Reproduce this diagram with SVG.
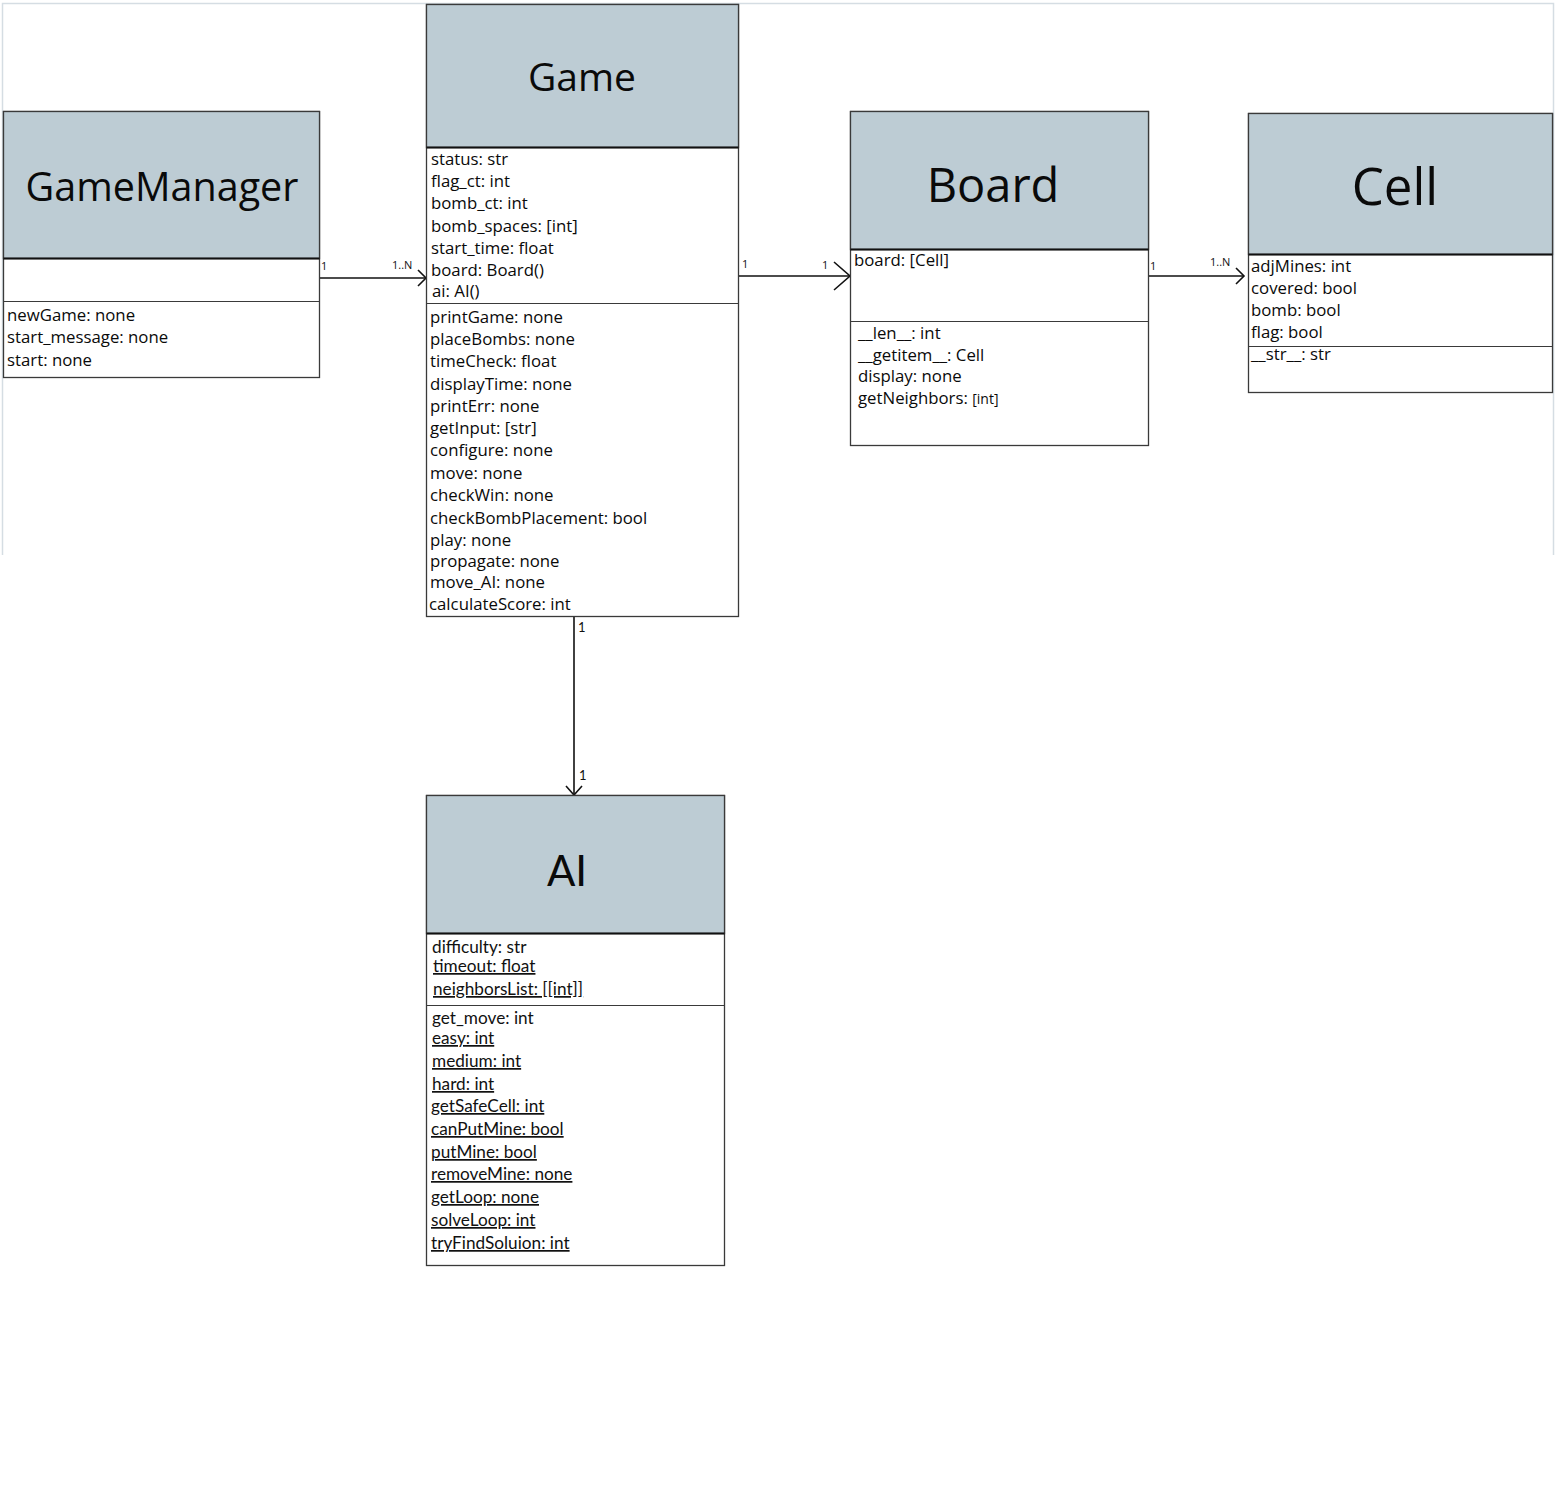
<svg xmlns="http://www.w3.org/2000/svg" width="1556" height="1500" viewBox="0 0 1556 1500">
<style>
.box{fill:#fff;stroke:#3a3a3a;stroke-width:1.3}
.hdr{fill:#bdccd4;stroke:#3a3a3a;stroke-width:1.3}
.hsep{stroke:#111;stroke-width:2}
.sep{stroke:#3a3a3a;stroke-width:1.2}
.title{font-family:"Open Sans","Liberation Sans",sans-serif;fill:#0a0a0a;text-anchor:middle}
.t{font-family:"Open Sans","Liberation Sans",sans-serif;font-size:16.8px;fill:#0a0a0a}
.c{font-family:"Lato","Liberation Sans",sans-serif;font-size:17.2px;fill:#111}
.u{text-decoration:underline}
.m{font-family:"Open Sans","Liberation Sans",sans-serif;font-size:11px;fill:#111}
.conn{stroke:#111;stroke-width:1.6;fill:none}
</style>
<rect x="0" y="0" width="1556" height="1500" fill="#fff"/>
<path d="M2.5 555 V3.5 H1553.5 V555" fill="none" stroke="#d5dde3" stroke-width="1.5"/>

<g id="connectors">
<line class="conn" x1="320" y1="278" x2="426" y2="278"/>
<polyline class="conn" points="418,270 426,278 418,286"/>
<text class="m" x="321" y="270">1</text>
<text class="m" x="392" y="269">1..N</text>
<line class="conn" x1="739" y1="276" x2="850" y2="276"/>
<polyline class="conn" points="834,262 850,276 834,290"/>
<text class="m" x="742" y="268">1</text>
<text class="m" x="822" y="269">1</text>
<line class="conn" x1="1149" y1="276" x2="1244" y2="276"/>
<polyline class="conn" points="1236,268 1244,276 1236,284"/>
<text class="m" x="1150" y="270">1</text>
<text class="m" x="1210" y="266">1..N</text>
<line class="conn" x1="574" y1="617" x2="574" y2="795" stroke-width="1.3"/>
<polyline class="conn" points="566,786 574,795 582,786" stroke-width="1.1"/>
<text class="m" x="578" y="632" style="font-family:Lato,sans-serif;font-size:13px">1</text>
<text class="m" x="579" y="780" style="font-family:Lato,sans-serif;font-size:13px">1</text>
</g>

<g id="GameManager">
<rect class="box" x="3.5" y="111.5" width="316" height="266"/>
<rect class="hdr" x="3.5" y="111.5" width="316" height="147"/>
<line class="hsep" x1="3.5" y1="258.5" x2="319.5" y2="258.5"/>
<line class="sep" x1="3.5" y1="301.5" x2="319.5" y2="301.5"/>
<text class="title" x="162" y="201" font-size="39.5">GameManager</text>
<text class="t" x="7" y="321">newGame: none</text>
<text class="t" x="7" y="343">start_message: none</text>
<text class="t" x="7" y="366">start: none</text>
</g>

<g id="Game">
<rect class="box" x="426.5" y="4.5" width="312" height="612"/>
<rect class="hdr" x="426.5" y="4.5" width="312" height="143"/>
<line class="hsep" x1="426.5" y1="147.5" x2="738.5" y2="147.5"/>
<line class="sep" x1="426.5" y1="303.5" x2="738.5" y2="303.5"/>
<text class="title" x="582" y="91" font-size="39">Game</text>
<text class="t" x="431" y="165">status: str</text>
<text class="t" x="431" y="187">flag_ct: int</text>
<text class="t" x="431" y="209">bomb_ct: int</text>
<text class="t" x="431" y="232">bomb_spaces: [int]</text>
<text class="t" x="431" y="254">start_time: float</text>
<text class="t" x="431" y="276">board: Board()</text>
<text class="t" x="432" y="297" font-size="18.5">ai: AI()</text>
<text class="t" x="430" y="323">printGame: none</text>
<text class="t" x="430" y="345">placeBombs: none</text>
<text class="t" x="430" y="367">timeCheck: float</text>
<text class="t" x="430" y="390">displayTime: none</text>
<text class="t" x="430" y="412">printErr: none</text>
<text class="t" x="430" y="434">getInput: [str]</text>
<text class="t" x="430" y="456">configure: none</text>
<text class="t" x="430" y="479">move: none</text>
<text class="t" x="430" y="501">checkWin: none</text>
<text class="t" x="430" y="524">checkBombPlacement: bool</text>
<text class="t" x="430" y="546">play: none</text>
<text class="t" x="430" y="567" font-size="15.5" fill="#333">propagate: none</text>
<text class="t" x="430" y="588">move_AI: none</text>
<text class="t" x="429" y="610">calculateScore: int</text>
</g>

<g id="Board">
<rect class="box" x="850.5" y="111.5" width="298" height="334"/>
<rect class="hdr" x="850.5" y="111.5" width="298" height="138"/>
<line class="hsep" x1="850.5" y1="249.5" x2="1148.5" y2="249.5"/>
<line class="sep" x1="850.5" y1="321.5" x2="1148.5" y2="321.5"/>
<text class="title" x="993" y="202" font-size="47">Board</text>
<text class="t" x="854" y="266" font-size="15">board: [Cell]</text>
<text class="t" x="858" y="339">__len__: int</text>
<text class="t" x="858" y="361">__getitem__: Cell</text>
<text class="t" x="858" y="382">display: none</text>
<text class="t" x="858" y="404">getNeighbors: <tspan font-size="14">[int]</tspan></text>
</g>

<g id="Cell">
<rect class="box" x="1248.5" y="113.5" width="304" height="279"/>
<rect class="hdr" x="1248.5" y="113.5" width="304" height="141"/>
<line class="hsep" x1="1248.5" y1="254.5" x2="1552.5" y2="254.5"/>
<line class="sep" x1="1248.5" y1="346.5" x2="1552.5" y2="346.5"/>
<text class="title" x="1395" y="205" font-size="51">Cell</text>
<text class="t" x="1251" y="272">adjMines: int</text>
<text class="t" x="1251" y="294">covered: bool</text>
<text class="t" x="1251" y="316">bomb: bool</text>
<text class="t" x="1251" y="338">flag: bool</text>
<text class="t" x="1251" y="360" font-size="14">__str__: str</text>
</g>

<g id="AI">
<rect class="box" x="426.5" y="795.5" width="298" height="470"/>
<rect class="hdr" x="426.5" y="795.5" width="298" height="138"/>
<line class="hsep" x1="426.5" y1="933.5" x2="724.5" y2="933.5"/>
<line class="sep" x1="426.5" y1="1005.5" x2="724.5" y2="1005.5"/>
<text class="title" x="567" y="886" font-size="42" style="font-family:Lato,'Liberation Sans',sans-serif">AI</text>
<text class="c" x="432" y="953">difficulty: str</text>
<text class="c u" x="433" y="972">timeout: float</text>
<text class="c u" x="433" y="995">neighborsList: [[int]]</text>
<text class="c" x="432" y="1024">get_move: int</text>
<text class="c u" x="432" y="1044">easy: int</text>
<text class="c u" x="432" y="1067">medium: int</text>
<text class="c u" x="432" y="1090">hard: int</text>
<text class="c u" x="431" y="1112">getSafeCell: int</text>
<text class="c u" x="431" y="1135">canPutMine: bool</text>
<text class="c u" x="431" y="1158">putMine: bool</text>
<text class="c u" x="431" y="1180">removeMine: none</text>
<text class="c u" x="431" y="1203">getLoop: none</text>
<text class="c u" x="431" y="1226">solveLoop: int</text>
<text class="c u" x="431" y="1249">tryFindSoluion: int</text>
</g>
</svg>
